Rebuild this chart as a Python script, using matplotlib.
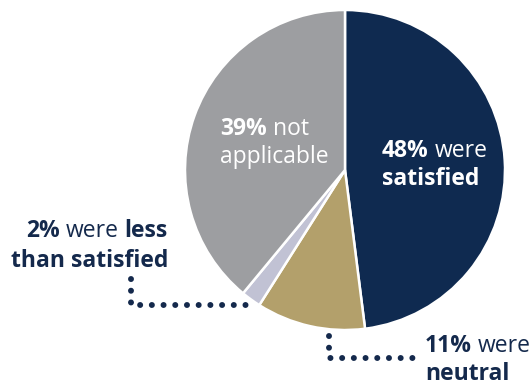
import matplotlib
matplotlib.use("Agg")
import matplotlib.pyplot as plt

# Survey responses (percent)
categories = ["satisfied", "neutral", "less than satisfied", "not applicable"]
values = [48, 11, 2, 39]
colors = ["#0f2a50", "#b3a06b", "#c1c2d4", "#9d9ea1"]

NAVY = "#14294c"
FONT = "Open Sans"
SIZE = 16.5

W, H = 532, 385
fig = plt.figure(figsize=(W / 100, H / 100), dpi=100)
ax = fig.add_axes([0, 0, 1, 1])

# y grows downward, so counterclockwise in data runs clockwise on screen
ax.pie(values, colors=colors, center=(345, 170), radius=160,
       startangle=-90, counterclock=True,
       wedgeprops=dict(edgecolor="white", linewidth=1.8))
ax.set_xlim(0, W)
ax.set_ylim(H, 0)
ax.set_aspect("auto")
ax.axis("off")

renderer = fig.canvas.get_renderer()


def text_width(s, weight):
    t = ax.text(0, 0, s, fontsize=SIZE, family=FONT, fontweight=weight)
    w = t.get_window_extent(renderer).width
    t.remove()
    return w


def rich_line(x, y, parts, ha="left", color=NAVY):
    """Draw one line made of (word, weight) pieces separated by spaces."""
    space = text_width("a a", "normal") - text_width("aa", "normal")
    widths = [text_width(s, wt) for s, wt in parts]
    total = sum(widths) + space * (len(parts) - 1)
    cx = x - total if ha == "right" else x
    for (s, wt), w in zip(parts, widths):
        ax.text(cx, y, s, fontsize=SIZE, family=FONT, fontweight=wt,
                color=color, ha="left", va="baseline")
        cx += w + space


B, R = "bold", "normal"

rich_line(382, 157, [("48%", B), ("were", R)], color="white")
rich_line(382, 185, [("satisfied", B)], color="white")

rich_line(220, 135, [("39%", B), ("not", R)], color="white")
rich_line(220, 163, [("applicable", R)], color="white")

rich_line(425, 352, [("11%", B), ("were", R)])
rich_line(425, 380, [("neutral", B)])

rich_line(168, 237, [("2%", B), ("were", R), ("less", B)], ha="right")
rich_line(168, 267, [("than satisfied", B)], ha="right")

# dotted leader lines
dot = dict(color=NAVY, linewidth=4.3, linestyle=(0, (0.01, 1.95)),
           dash_capstyle="round")
ax.plot([131, 131, 252], [279, 305, 305], **dot)
ax.plot([329, 329, 415], [336, 358, 358], **dot)

fig.savefig("out.png", dpi=100)
